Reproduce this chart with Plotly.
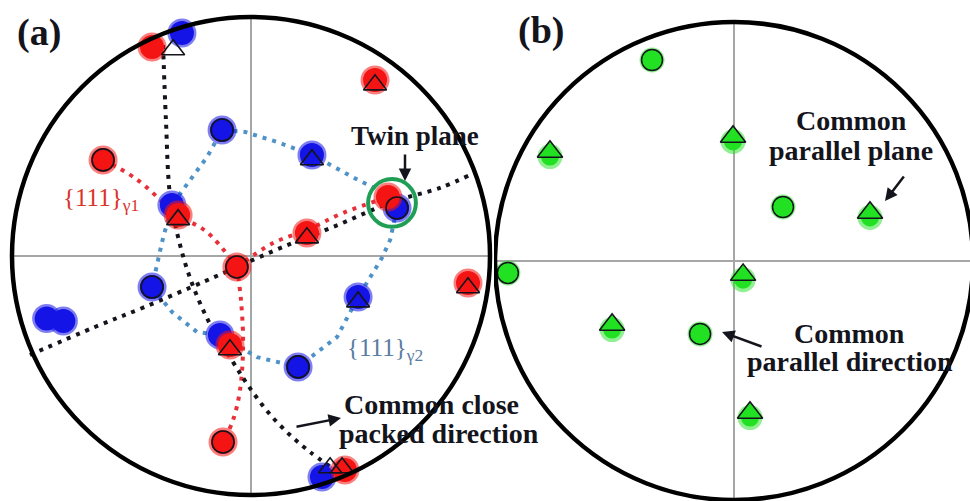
import plotly.graph_objects as go

W, H = 970, 501

# ---------------- panel (a): stereographic coordinates on the unit primitive ----------------
# {111} poles of gamma-1 (red clusters)
red_x = [-0.414, 0.519, -0.619, -0.305, 0.573, 0.234, -0.059, -0.088, -0.117, 0.908, 0.393]
red_y = [0.874, 0.736, 0.402, 0.172, 0.247, 0.096, -0.046, -0.372, -0.778, -0.113, -0.895]
# {111} poles of gamma-2 (blue clusters)
blue_x = [-0.121, 0.255, -0.414, -0.855, -0.785, 0.448, 0.197, -0.130, -0.331, 0.611, -0.289, 0.297]
blue_y = [0.527, 0.423, -0.130, -0.262, -0.272, -0.172, -0.464, -0.331, 0.213, 0.201, 0.933, -0.925]
# calculated poles: planes (open circles) and directions (open triangles)
ring_x = [-0.619, -0.059, -0.117, -0.121, -0.414, 0.197, 0.611]
ring_y = [0.402, -0.046, -0.778, 0.527, -0.130, -0.464, 0.201]
tri_x = [-0.326, 0.519, -0.305, 0.234, -0.088, 0.908, 0.255, 0.448, 0.331, 0.381]
tri_y = [0.863, 0.716, 0.152, 0.076, -0.392, -0.133, 0.403, -0.192, -0.886, -0.886]
# twin plane pole
twin_x, twin_y, twin_r = 0.590, 0.222, 0.100

# great-circle traces (dotted)
dir1_x = [-0.368, -0.356, -0.339, -0.305, -0.255, -0.180, -0.075, -0.013, 0.071, 0.163, 0.247, 0.339]
dir1_y = [0.883, 0.569, 0.255, 0.079, -0.092, -0.268, -0.444, -0.540, -0.653, -0.749, -0.820, -0.887]
dir2_x = [-0.925, -0.653, -0.444, -0.192, -0.059, 0.134, 0.364, 0.590, 0.791, 0.916]
dir2_y = [-0.414, -0.297, -0.213, -0.105, -0.046, 0.038, 0.130, 0.226, 0.285, 0.339]
g1a_x = [-0.619, -0.485, -0.305, -0.184, -0.059]
g1a_y = [0.402, 0.326, 0.172, 0.100, -0.046]
g1b_x = [-0.059, 0.092, 0.234, 0.385, 0.573]
g1b_y = [-0.046, 0.054, 0.109, 0.180, 0.247]
g1c_x = [-0.059, -0.042, -0.033, -0.046, -0.075, -0.117]
g1c_y = [-0.046, -0.184, -0.372, -0.561, -0.686, -0.778]
g2_x = [0.611, 0.561, 0.448, 0.255, 0.109, -0.025, -0.121, -0.184, -0.264, -0.331,
        -0.372, -0.414, -0.331, -0.226, -0.130, 0.025, 0.197, 0.360, 0.448, 0.548, 0.582, 0.611]
g2_y = [0.201, 0.264, 0.318, 0.423, 0.477, 0.519, 0.527, 0.414, 0.305, 0.213,
        0.059, -0.130, -0.234, -0.318, -0.331, -0.423, -0.464, -0.339, -0.172, -0.008, 0.067, 0.201]

# ---------------- panel (b) ----------------
gring_x = [-0.343, 0.205, -0.946, -0.142]
gring_y = [0.841, 0.226, -0.050, -0.305]
gtri_x = [-0.770, -0.004, 0.569, 0.038, -0.510, 0.067]
gtri_y = [0.457, 0.520, 0.202, -0.058, -0.267, -0.635]

RED = "#f41414"
BLUE = "#1414e6"
GREEN = "#22e022"
DOT_BLUE = "#4f92c8"
DOT_RED = "#e8303a"
INK = "#14141c"

fig = go.Figure()


def dotted(x, y, color, axes, shape="spline"):
    xa, ya = axes
    fig.add_trace(go.Scatter(x=x, y=y, mode="lines", xaxis=xa, yaxis=ya,
                             line=dict(color=color, width=4, dash="4px,6px", shape=shape),
                             hoverinfo="skip"))


def blobs(x, y, color, axes, core=24, halo=29, halo_op=0.55):
    xa, ya = axes
    fig.add_trace(go.Scatter(x=x, y=y, mode="markers", xaxis=xa, yaxis=ya,
                             marker=dict(size=halo, color=color, opacity=halo_op, line=dict(width=0)),
                             hoverinfo="skip"))
    fig.add_trace(go.Scatter(x=x, y=y, mode="markers", xaxis=xa, yaxis=ya,
                             marker=dict(size=core, color=color, line=dict(width=0)),
                             hoverinfo="skip"))


def open_marks(x, y, symbol, size, axes):
    xa, ya = axes
    fig.add_trace(go.Scatter(x=x, y=y, mode="markers", xaxis=xa, yaxis=ya,
                             marker=dict(symbol=symbol, size=size, color=INK,
                                         line=dict(color=INK, width=1.6)),
                             hoverinfo="skip"))


def filled_marks(x, y, symbol, size, axes, fill):
    xa, ya = axes
    fig.add_trace(go.Scatter(x=x, y=y, mode="markers", xaxis=xa, yaxis=ya,
                             marker=dict(symbol=symbol, size=size, color=fill,
                                         line=dict(color=INK, width=1.5)),
                             hoverinfo="skip"))


A = ("x", "y")
B = ("x2", "y2")

# panel (a) traces
dotted(g2_x, g2_y, DOT_BLUE, A, shape="linear")
dotted(g1a_x, g1a_y, DOT_RED, A)
dotted(g1b_x, g1b_y, DOT_RED, A)
dotted(g1c_x, g1c_y, DOT_RED, A)
dotted(dir1_x, dir1_y, INK, A)
dotted(dir2_x, dir2_y, INK, A)
blobs(blue_x, blue_y, BLUE, A)
blobs(red_x, red_y, RED, A)
open_marks(ring_x, ring_y, "circle-open", 22, A)
open_marks(tri_x, tri_y, "triangle-up-open", 20, A)

# panel (b) traces
blobs(gring_x, gring_y, GREEN, B, core=20, halo=25, halo_op=0.5)
blobs(gtri_x, [v - 0.02 for v in gtri_y], GREEN, B, core=18, halo=25, halo_op=0.5)
filled_marks(gring_x, gring_y, "circle", 21, B, GREEN)
filled_marks(gtri_x, gtri_y, "triangle-up", 22, B, GREEN)

# primitive circles, reference diameters and the twin-plane marker
shapes = []
for xr, yr in (A, B):
    shapes.append(dict(type="line", xref=xr, yref=yr, x0=-1, x1=1, y0=0, y1=0,
                       line=dict(color="#a6a6a6", width=2), layer="below"))
    shapes.append(dict(type="line", xref=xr, yref=yr, x0=0, x1=0, y0=-1, y1=1,
                       line=dict(color="#a6a6a6", width=2), layer="below"))
    shapes.append(dict(type="circle", xref=xr, yref=yr, x0=-1, x1=1, y0=-1, y1=1,
                       line=dict(color="#000000", width=4.5)))
shapes.append(dict(type="circle", xref="x", yref="y",
                   x0=twin_x - twin_r, x1=twin_x + twin_r, y0=twin_y - twin_r, y1=twin_y + twin_r,
                   line=dict(color="#1f9e55", width=4)))


def P(px, py):
    return px / W, 1 - py / H


SERIF = "Liberation Serif"
ann = []


def label(text, px, py, size, color=INK, xanchor="center", bold=True):
    x, y = P(px, py)
    t = f"<b>{text}</b>" if bold else text
    ann.append(dict(text=t, x=x, y=y, xref="paper", yref="paper", xanchor=xanchor,
                    yanchor="middle", showarrow=False,
                    font=dict(family=SERIF, size=size, color=color)))


def arrow(tail, head):
    hx, hy = P(*head)
    ann.append(dict(text="", x=hx, y=hy, xref="paper", yref="paper",
                    ax=tail[0] - head[0], ay=tail[1] - head[1], axref="pixel", ayref="pixel",
                    showarrow=True, arrowhead=2, arrowsize=1, arrowwidth=2.5, arrowcolor=INK))


label("(a)", 39, 33, 38)
label("(b)", 541, 31, 38)
label("Twin plane", 415, 136, 27)
label("Common close", 342, 404, 28, xanchor="left")
label("packed direction", 337, 433, 28, xanchor="left")
label("Common", 851, 120, 28)
label("parallel plane", 851, 151, 28)
label("Common", 849, 333, 28)
label("parallel direction", 850, 361, 28)
label("{111}<sub>γ1</sub>", 61, 199, 25, color="#d8342c", xanchor="left", bold=False)
label("{111}<sub>γ2</sub>", 345, 349, 25, color="#5a7ca2", xanchor="left", bold=False)

arrow((405, 153), (405, 181))
arrow((295, 427), (341, 418))
arrow((905, 175), (885, 201))
arrow((763, 347), (722, 332))

# axis geometry: primitive circle centres/radius in page pixels
R = 239.0
CA = (251.0, 256.0)
CB = (734.0, 261.0)
XA_PX = (0.0, 494.0)
XB_PX = (494.0, 970.0)


def xrange_(c, span):
    return [(span[0] - c[0]) / R, (span[1] - c[0]) / R]


def yrange_(c):
    return [(c[1] - H) / R, c[1] / R]


ax_common = dict(visible=False, showgrid=False, zeroline=False, fixedrange=True)
fig.update_layout(
    width=W, height=H,
    margin=dict(l=0, r=0, t=0, b=0),
    paper_bgcolor="white", plot_bgcolor="rgba(0,0,0,0)",
    showlegend=False,
    xaxis=dict(domain=[XA_PX[0] / W, XA_PX[1] / W], range=xrange_(CA, XA_PX), anchor="y", **ax_common),
    yaxis=dict(domain=[0, 1], range=yrange_(CA), anchor="x", **ax_common),
    xaxis2=dict(domain=[XB_PX[0] / W, XB_PX[1] / W], range=xrange_(CB, XB_PX), anchor="y2", **ax_common),
    yaxis2=dict(domain=[0, 1], range=yrange_(CB), anchor="x2", **ax_common),
    shapes=shapes,
    annotations=ann,
)

fig.write_html("out.html")
